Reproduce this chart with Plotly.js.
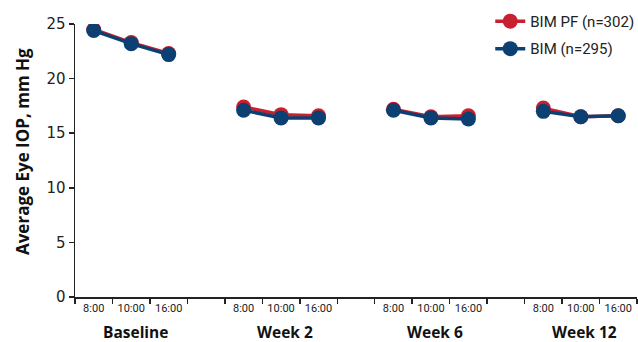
<!DOCTYPE html>
<html>
<head>
<meta charset="utf-8">
<script src="https://cdn.plot.ly/plotly-3.0.1.min.js"></script>
<style>html,body{margin:0;padding:0;background:#fff}#chart{width:638px;height:342px}</style>
</head>
<body>
<div id="chart"></div>
<script>
// Data
const groups = ["Baseline", "Week 2", "Week 6", "Week 12"];
const times = ["8:00", "10:00", "16:00"];
const bimPF = [
  [24.5, 23.3, 22.3],
  [17.4, 16.7, 16.6],
  [17.2, 16.5, 16.6],
  [17.3, 16.5, 16.6]
];
const bim = [
  [24.4, 23.2, 22.2],
  [17.1, 16.4, 16.4],
  [17.1, 16.4, 16.3],
  [17.0, 16.5, 16.6]
];
const seriesNames = ["BIM PF (n=302)", "BIM (n=295)"];
const seriesColors = ["#c8202e", "#0c3f72"];
const yTitle = "Average Eye IOP, mm Hg";

const slot = g => g * (times.length + 1);
function traces(values, name, color) {
  return values.map((row, g) => ({
    type: "scatter", mode: "lines+markers",
    x: row.map((_, t) => slot(g) + t), y: row,
    name: name, legendgroup: name, showlegend: g === 0,
    line: {color: color, width: 3.5},
    marker: {color: color, size: 15},
    hoverinfo: "skip"
  }));
}
const data = [].concat(traces(bimPF, seriesNames[0], seriesColors[0]),
                       traces(bim, seriesNames[1], seriesColors[1]));

const tickvals = [], ticktext = [];
groups.forEach((g, gi) => times.forEach((t, ti) => { tickvals.push(slot(gi) + ti); ticktext.push(t); }));
const nSlots = groups.length * (times.length + 1) - 1;

const annotations = groups.map((g, gi) => ({
  x: slot(gi) + 1, y: 0, xref: "x", yref: "paper", yanchor: "middle", yshift: -35, xshift: 4,
  text: "<b>" + g + "</b>", showarrow: false, borderpad: 0,
  font: {family: "Open Sans, sans-serif", size: 15.5, color: "#111"}
}));
annotations.push({
  x: 0, y: 0.531, xref: "paper", yref: "paper", xanchor: "center", yanchor: "middle",
  xshift: -53, textangle: -90, showarrow: false, borderpad: 0,
  text: "<b>" + yTitle + "</b>",
  font: {family: "Open Sans, sans-serif", size: 17, color: "#111"}
});

const layout = {
  width: 638, height: 342,
  margin: {l: 75, r: 1, t: 24, b: 45, autoexpand: false},
  paper_bgcolor: "#fff", plot_bgcolor: "#fff",
  showlegend: true,
  legend: {x: 1.004, y: 1.07, xanchor: "right", yanchor: "top", bgcolor: "rgba(0,0,0,0)", tracegroupgap: 5,
           font: {family: "Roboto, sans-serif", size: 15, color: "#222"}, itemwidth: 30},
  xaxis: {
    range: [-0.5, nSlots - 0.5], showgrid: false, zeroline: false,
    showline: true, linecolor: "#222", linewidth: 1.5,
    tickvals: tickvals, ticktext: ticktext, ticks: "",
    tickfont: {family: "Roboto, sans-serif", size: 11, color: "#222"},
    minor: {tick0: 0.5, dtick: 1, ticks: "outside", ticklen: 5, tickcolor: "#222", tickwidth: 1.5, showgrid: false}
  },
  yaxis: {
    range: [0, 25], tickvals: [0, 5, 10, 15, 20, 25], showgrid: false, zeroline: false,
    showline: true, linecolor: "#222", linewidth: 1.5, ticks: "outside", ticklen: 5, tickcolor: "#222", tickwidth: 1.5,
    tickfont: {family: "DejaVu Sans, sans-serif", size: 15, color: "#222"}
  },
  annotations: annotations
};
Plotly.newPlot("chart", data, layout, {displayModeBar: false, staticPlot: true});
</script>
</body>
</html>
